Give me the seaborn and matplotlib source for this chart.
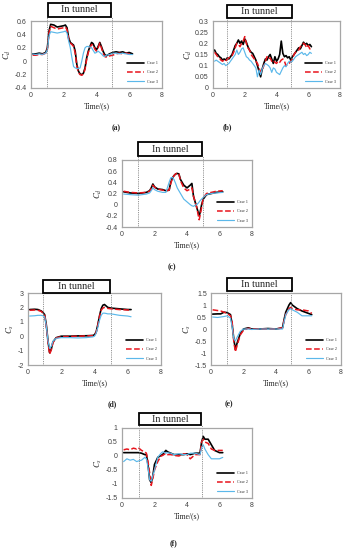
import numpy as np
import pandas as pd
import matplotlib
matplotlib.use('Agg')
import matplotlib.pyplot as plt
from matplotlib.patches import Rectangle
import seaborn as sns

sns.set_theme(style='white')
plt.rcParams['font.family'] = ['Liberation Serif', 'DejaVu Serif']
plt.rcParams['mathtext.fontset'] = 'stix'

cases = ['Case 1', 'Case 2', 'Case 3']

# panel (a) drag coefficient
t_a = [0.1, 0.3, 0.5, 0.7, 0.9, 1.0, 1.1, 1.2, 1.4, 1.6, 1.8, 2.0, 2.1, 2.2, 2.3, 2.4, 2.5, 2.6, 2.7, 2.8,
       2.9, 3.0, 3.1, 3.2, 3.3, 3.4, 3.5, 3.6, 3.7, 3.8, 3.9, 4.0, 4.1, 4.2, 4.3, 4.4, 4.5, 4.6, 4.8, 5.0,
       5.2, 5.4, 5.6, 5.8, 6.0, 6.2]
a1 = [0.11, 0.11, 0.12, 0.11, 0.13, 0.2, 0.45, 0.55, 0.54, 0.51, 0.52, 0.53, 0.54, 0.5, 0.35, 0.28, 0.26, 0.24, 0.15, -0.05,
      -0.15, -0.19, -0.2, -0.18, -0.1, 0.05, 0.15, 0.22, 0.28, 0.26, 0.2, 0.17, 0.22, 0.28, 0.22, 0.15, 0.1, 0.08, 0.11, 0.13,
      0.14, 0.13, 0.14, 0.12, 0.13, 0.11]
a2 = [0.09, 0.09, 0.1, 0.1, 0.12, 0.18, 0.42, 0.52, 0.5, 0.48, 0.49, 0.5, 0.51, 0.47, 0.33, 0.27, 0.25, 0.22, 0.12, -0.08,
      -0.17, -0.2, -0.21, -0.19, -0.12, 0.03, 0.13, 0.2, 0.25, 0.24, 0.18, 0.15, 0.2, 0.27, 0.2, 0.12, 0.07, 0.06, 0.08, 0.09,
      0.11, 0.12, 0.11, 0.12, 0.11, 0.1]
a3 = [0.11, 0.1, 0.11, 0.1, 0.12, 0.17, 0.38, 0.44, 0.43, 0.42, 0.43, 0.44, 0.45, 0.42, 0.3, 0.2, 0.05, -0.08, -0.1, -0.11,
      -0.11, -0.1, 0.0, 0.12, 0.2, 0.22, 0.22, 0.21, 0.2, 0.16, 0.12, 0.13, 0.15, 0.13, 0.11, 0.08, 0.07, 0.09, 0.1, 0.12,
      0.12, 0.11, 0.12, 0.11, 0.1, 0.1]

# panel (b)
t_b = [0.1, 0.2, 0.3, 0.4, 0.5, 0.6, 0.7, 0.8, 0.9, 1.0, 1.1, 1.2, 1.3, 1.4, 1.5, 1.6, 1.7, 1.8, 1.9, 2.0,
       2.1, 2.2, 2.3, 2.4, 2.5, 2.6, 2.7, 2.8, 2.9, 3.0, 3.1, 3.2, 3.3, 3.4, 3.5, 3.6, 3.7, 3.8, 3.9, 4.0,
       4.1, 4.2, 4.3, 4.4, 4.5, 4.6, 4.7, 4.8, 4.9, 5.0, 5.1, 5.2, 5.3, 5.4, 5.5, 5.6, 5.7, 5.8, 5.9, 6.0,
       6.1, 6.2]
b1 = [0.17, 0.155, 0.15, 0.14, 0.135, 0.125, 0.13, 0.125, 0.135, 0.13, 0.14, 0.15, 0.17, 0.19, 0.2, 0.215, 0.2, 0.21, 0.195, 0.22,
      0.205, 0.185, 0.17, 0.16, 0.155, 0.14, 0.125, 0.1, 0.075, 0.05, 0.085, 0.11, 0.13, 0.125, 0.14, 0.15, 0.13, 0.11, 0.14, 0.12,
      0.13, 0.15, 0.21, 0.155, 0.14, 0.145, 0.135, 0.14, 0.125, 0.14, 0.15, 0.16, 0.17, 0.18, 0.175, 0.19, 0.205, 0.195, 0.2, 0.19,
      0.195, 0.185]
b2 = [0.16, 0.15, 0.14, 0.135, 0.125, 0.12, 0.125, 0.12, 0.13, 0.135, 0.14, 0.145, 0.16, 0.18, 0.2, 0.195, 0.185, 0.2, 0.21, 0.23,
      0.2, 0.18, 0.17, 0.15, 0.14, 0.13, 0.12, 0.11, 0.09, 0.07, 0.08, 0.1, 0.12, 0.14, 0.13, 0.135, 0.12, 0.125, 0.115, 0.11,
      0.12, 0.115, 0.125, 0.13, 0.12, 0.1, 0.105, 0.11, 0.12, 0.13, 0.15, 0.16, 0.165, 0.17, 0.185, 0.19, 0.2, 0.195, 0.18, 0.19,
      0.175, 0.18]
b3 = [0.12, 0.125, 0.12, 0.115, 0.11, 0.105, 0.11, 0.1, 0.105, 0.11, 0.12, 0.13, 0.14, 0.15, 0.17, 0.15, 0.16, 0.175, 0.18, 0.16,
      0.14, 0.135, 0.125, 0.12, 0.11, 0.1, 0.09, 0.05, 0.08, 0.06, 0.085, 0.1, 0.11, 0.105, 0.1, 0.09, 0.07, 0.09, 0.085, 0.07,
      0.065, 0.06, 0.075, 0.09, 0.1, 0.095, 0.11, 0.12, 0.115, 0.12, 0.13, 0.14, 0.145, 0.15, 0.155, 0.16, 0.15, 0.155, 0.145, 0.15,
      0.16, 0.155]

# panel (c)
t_c = [0.1, 0.5, 1.0, 1.5, 1.7, 1.8, 1.9, 2.0, 2.2, 2.5, 2.7, 2.9, 3.0, 3.1, 3.2, 3.3, 3.4, 3.5, 3.6, 3.8,
       4.0, 4.2, 4.3, 4.4, 4.5, 4.6, 4.7, 4.75, 4.8, 4.9, 5.0, 5.2, 5.5, 5.8, 6.2]
c1 = [0.23, 0.21, 0.2, 0.22, 0.25, 0.3, 0.37, 0.32, 0.28, 0.27, 0.25, 0.26, 0.4, 0.48, 0.52, 0.55, 0.56, 0.55, 0.45, 0.35,
      0.3, 0.35, 0.38, 0.15, 0.05, -0.05, -0.15, -0.2, -0.15, 0.0, 0.1, 0.18, 0.2, 0.22, 0.23]
c2 = [0.24, 0.22, 0.21, 0.22, 0.24, 0.29, 0.35, 0.31, 0.28, 0.26, 0.25, 0.26, 0.38, 0.47, 0.52, 0.55, 0.57, 0.55, 0.43, 0.3,
      0.25, 0.28, 0.3, 0.15, 0.05, -0.05, -0.2, -0.27, -0.2, -0.05, 0.12, 0.2, 0.22, 0.24, 0.25]
c3 = [0.19, 0.18, 0.17, 0.19, 0.21, 0.25, 0.3, 0.27, 0.24, 0.22, 0.22, 0.4, 0.48, 0.49, 0.45, 0.38, 0.3, 0.25, 0.2, 0.1,
      0.05, 0.0, -0.02, -0.03, -0.01, 0.0, 0.03, 0.05, 0.07, 0.1, 0.13, 0.18, 0.2, 0.21, 0.22]

# panel (d) side force
t_d = [0.1, 0.4, 0.6, 0.8, 0.9, 1.0, 1.1, 1.2, 1.3, 1.4, 1.5, 1.7, 2.0, 2.5, 3.0, 3.5, 3.9, 4.0, 4.1, 4.2,
       4.3, 4.4, 4.5, 4.6, 4.7, 4.8, 5.0, 5.5, 6.0, 6.2]
d1 = [1.85, 1.87, 1.85, 1.75, 1.65, 1.5, 0.8, -0.3, -1.15, -0.9, -0.4, -0.1, 0.0, 0.0, 0.02, 0.03, 0.05, 0.1, 0.3, 0.8,
      1.4, 1.9, 2.15, 2.2, 2.1, 2.0, 1.95, 1.9, 1.85, 1.85]
d2 = [1.8, 1.82, 1.8, 1.72, 1.6, 1.45, 0.7, -0.4, -1.25, -0.95, -0.45, -0.12, -0.03, -0.02, 0.0, 0.02, 0.04, 0.08, 0.25, 0.75,
      1.35, 1.8, 1.95, 2.0, 1.97, 1.93, 1.9, 1.85, 1.82, 1.8]
d3 = [1.4, 1.42, 1.45, 1.45, 1.42, 1.35, 0.7, -0.3, -0.85, -0.7, -0.35, -0.15, -0.1, -0.1, -0.12, -0.1, -0.05, 0.0, 0.2, 0.6,
      1.1, 1.45, 1.6, 1.6, 1.58, 1.55, 1.55, 1.45, 1.4, 1.35]

# panel (e)
t_e = [0.1, 0.4, 0.6, 0.8, 1.0, 1.2, 1.3, 1.4, 1.5, 1.6, 1.8, 2.0, 2.3, 2.5, 3.0, 3.5, 4.0, 4.4, 4.5, 4.6,
       4.8, 4.9, 5.0, 5.3, 5.6, 6.0, 6.2]
e1 = [0.62, 0.63, 0.63, 0.7, 0.68, 0.6, 0.2, -0.4, -0.85, -0.6, -0.2, 0.0, 0.05, 0.0, 0.0, 0.02, 0.0, 0.05, 0.4, 0.7,
      1.0, 1.1, 1.0, 0.85, 0.75, 0.65, 0.6]
e2 = [0.8, 0.77, 0.75, 0.7, 0.65, 0.55, 0.3, -0.5, -0.95, -0.7, -0.25, -0.05, 0.03, 0.0, 0.0, 0.0, 0.0, 0.05, 0.35, 0.6,
      0.85, 0.9, 0.85, 0.8, 0.8, 0.75, 0.65]
e3 = [0.5, 0.48, 0.5, 0.52, 0.55, 0.45, 0.1, -0.4, -0.5, -0.35, -0.1, 0.0, 0.0, -0.02, 0.0, 0.0, 0.0, 0.0, 0.3, 0.6,
      0.8, 0.85, 0.8, 0.7, 0.55, 0.55, 0.55]

# panel (f)
t_f = [0.1, 0.3, 0.5, 0.7, 0.9, 1.0, 1.2, 1.4, 1.5, 1.6, 1.7, 1.8, 1.9, 2.0, 2.2, 2.4, 2.5, 2.7, 2.8, 3.0,
       3.2, 3.5, 3.8, 4.0, 4.2, 4.5, 4.8, 4.9, 5.0, 5.1, 5.3, 5.5, 5.7, 6.0, 6.2]
f1 = [0.12, 0.12, 0.12, 0.12, 0.12, 0.12, 0.1, 0.05, 0.05, -0.3, -0.85, -0.95, -0.7, -0.3, -0.05, 0.02, 0.05, 0.2, 0.15, 0.1,
      0.05, 0.05, 0.05, 0.08, 0.05, 0.1, 0.1, 0.5, 0.7, 0.6, 0.6, 0.4, 0.2, 0.12, 0.12]
f2 = [0.22, 0.25, 0.22, 0.28, 0.25, 0.3, 0.2, 0.15, 0.1, -0.2, -0.6, -1.05, -0.8, -0.5, -0.2, 0.0, 0.02, 0.1, 0.05, 0.05,
      0.02, 0.0, 0.08, 0.05, -0.1, 0.05, 0.05, 0.5, 0.6, 0.5, 0.45, 0.25, 0.2, 0.2, 0.2]
f3 = [-0.2, -0.1, -0.15, -0.12, -0.2, -0.18, -0.15, -0.05, -0.1, -0.4, -0.85, -0.9, -0.7, -0.5, -0.05, 0.1, 0.15, 0.1, 0.12, 0.1,
      0.05, 0.08, 0.05, 0.05, 0.1, 0.1, 0.05, 0.3, 0.4, 0.25, 0.05, -0.1, -0.1, -0.1, -0.05]

panels = [
    ('(a)', '$C_d$', t_a, [a1, a2, a3], (-0.4, 0.6), np.arange(-0.4, 0.61, 0.2)),
    ('(b)', '$C_d$', t_b, [b1, b2, b3], (0, 0.3), np.arange(0, 0.31, 0.05)),
    ('(c)', '$C_d$', t_c, [c1, c2, c3], (-0.4, 0.8), np.arange(-0.4, 0.81, 0.2)),
    ('(d)', '$C_s$', t_d, [d1, d2, d3], (-2, 3), np.arange(-2, 3.1, 1)),
    ('(e)', '$C_s$', t_e, [e1, e2, e3], (-1.5, 1.5), np.arange(-1.5, 1.51, 0.5)),
    ('(f)', '$C_s$', t_f, [f1, f2, f3], (-1.5, 1.0), np.arange(-1.5, 1.01, 0.5)),
]

# layout in figure pixels: axes (left, right, top, bottom), tunnel box (x0, x1, y0, y1), label (x, y)
W, H = 348, 550
axes_px = [(31, 162, 21, 88), (213, 340, 21, 88), (122, 252, 160, 227),
           (28, 161, 293, 365), (211, 341, 293, 365), (122, 252, 428, 498)]
box_px = [(48, 111, 3, 17), (227, 292, 5, 18), (138, 202, 142, 156),
          (43, 110, 280, 293), (227, 292, 278, 291), (139, 201, 413, 425)]
lab_px = [(116, 128), (227, 127), (172, 267), (112, 404), (229, 404), (173, 543)]
vl = [(1.0, 4.95), (0.9, 4.9), (1.0, 4.98), (0.92, 4.97), (1.0, 4.94), (1.05, 4.9)]

colors = ['black', '#e8141c', '#5bb8ea']
styles = ['-', '--', '-']
widths = [1.2, 1.1, 0.85]

fig = plt.figure(figsize=(W / 100, H / 100), dpi=100)

for i, (lab, ylab, t, ys, ylim, yt) in enumerate(panels):
    l, r, tp, bt = axes_px[i]
    ax = fig.add_axes([l / W, 1 - bt / H, (r - l) / W, (bt - tp) / H])
    for k in range(3):
        sns.lineplot(x=t, y=ys[k], ax=ax, color=colors[k], linestyle=styles[k],
                     linewidth=widths[k], label=cases[k])
    ax.set_xlim(0, 8)
    ax.set_ylim(*ylim)
    ax.set_xticks([0, 2, 4, 6, 8])
    ax.set_yticks(yt)
    ax.set_yticklabels([f'{v:g}' for v in np.round(yt, 2)])
    ax.tick_params(length=0, labelsize=5, pad=3, labelcolor='#404040')
    for tl in ax.get_xticklabels() + ax.get_yticklabels():
        tl.set_family('Liberation Sans')
    for s in ax.spines.values():
        s.set_color('#a6a6a6')
        s.set_linewidth(0.9)
    ax.set_xlabel('Time/(s)', fontsize=5.5, labelpad=2)
    ax.set_ylabel(ylab, fontsize=6, labelpad=1)
    bh = (bt - box_px[i][3]) / (bt - tp)
    for xv in vl[i]:
        ax.axvline(xv, ymin=0, ymax=bh, color='#707070', linestyle=(0, (1, 1.2)),
                   linewidth=0.6, clip_on=False)
    leg = ax.legend(loc='lower right', fontsize=3, frameon=False, handlelength=4,
                    labelspacing=1.3, borderaxespad=0.6)
    x0, x1, y0, y1 = box_px[i]
    fig.add_artist(Rectangle((x0 / W, 1 - y1 / H), (x1 - x0) / W, (y1 - y0) / H,
                             transform=fig.transFigure, facecolor='white',
                             edgecolor='black', linewidth=1.3))
    fig.text((x0 + x1) / 2 / W, 1 - (y0 + y1) / 2 / H, 'In tunnel', ha='center',
             va='center', fontsize=7.3)
    fig.text(lab_px[i][0] / W, 1 - lab_px[i][1] / H, lab, ha='center', va='center',
             fontsize=5.5, fontweight='bold')

fig.savefig('out.png', dpi=100)
